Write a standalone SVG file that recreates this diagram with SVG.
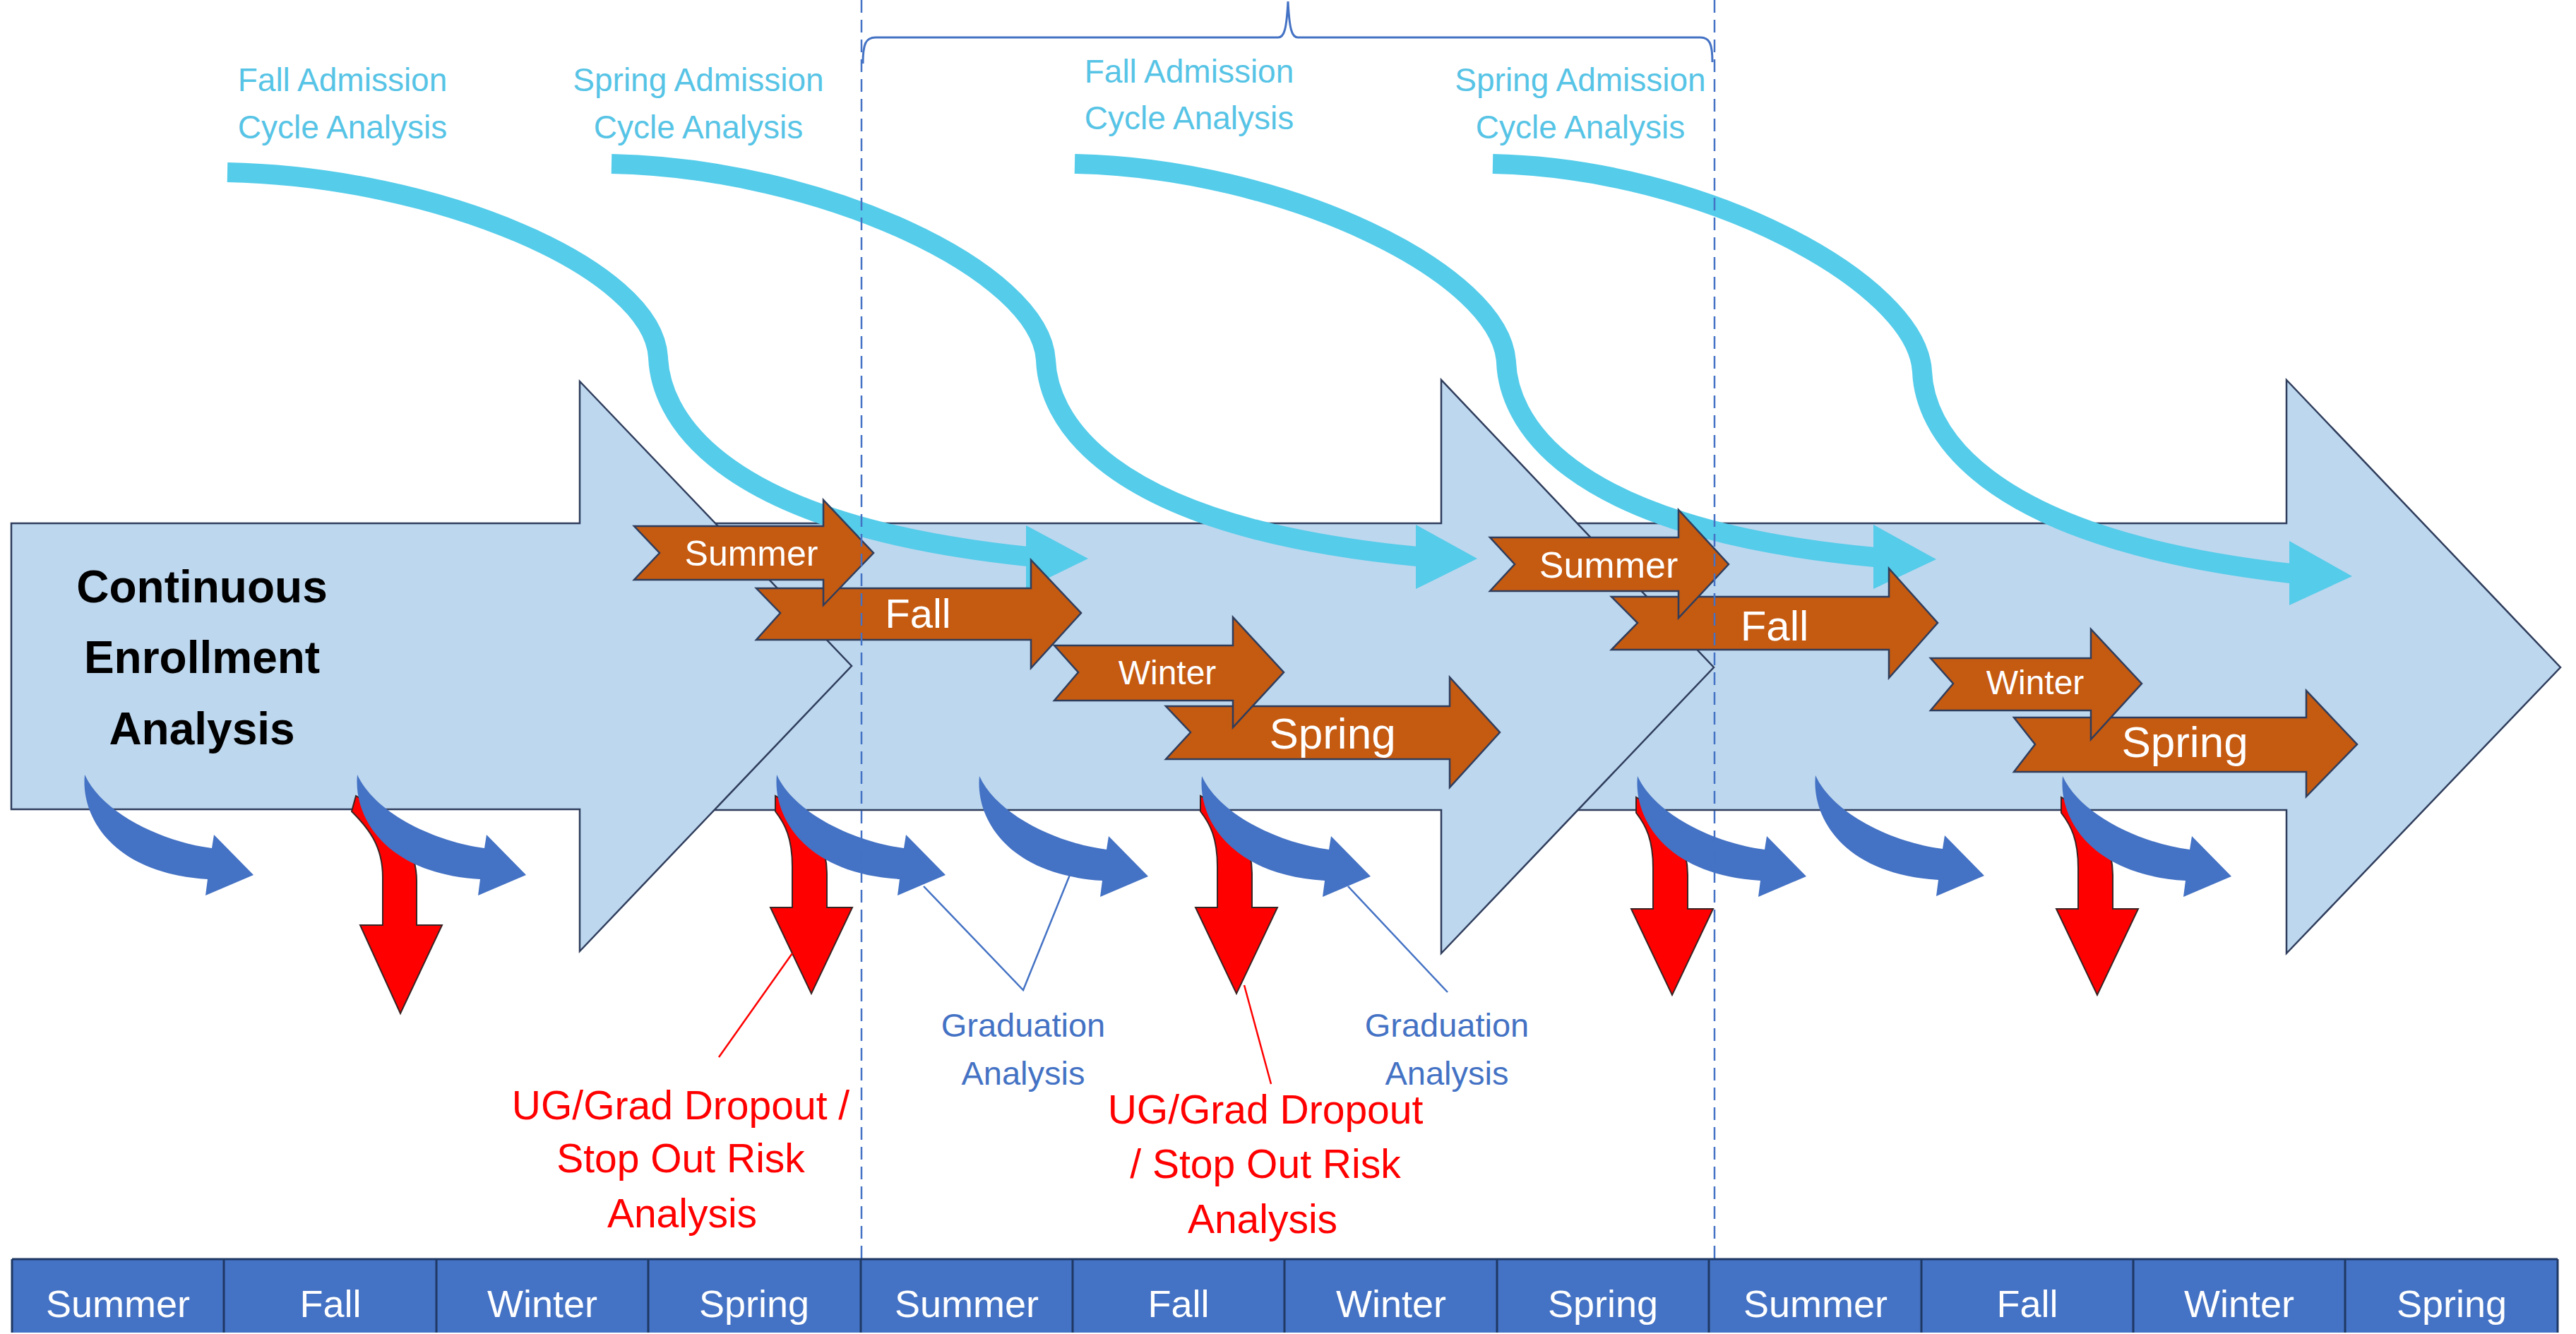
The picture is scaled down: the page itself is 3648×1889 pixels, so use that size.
<svg xmlns="http://www.w3.org/2000/svg" xmlns:xlink="http://www.w3.org/1999/xlink" width="3648" height="1889" viewBox="0 0 3648 1889">
<style>
.big{fill:#BDD7EE;stroke:#2F3D5C;stroke-width:2.5}
.cy{fill:none;stroke:#55CCEA;stroke-width:28}
.cyh{fill:#55CCEA}
.or{fill:#C55A11;stroke:#2F3D5C;stroke-width:2.5}
.t{font-family:"Liberation Sans",Arial,sans-serif;text-anchor:middle}
.ot{fill:#FFFFFF}
.blue{fill:#4472C4}
.red{fill:#FF0000;stroke:#3A2323;stroke-width:2}
.gl{stroke:#4472C4;stroke-width:2.5;fill:none}
.rl{stroke:#FF0000;stroke-width:2.5;fill:none}
.dash{stroke:#4472C4;stroke-width:2.5;stroke-dasharray:18 10;fill:none}
.adm{fill:#57C4E6;font-size:46px}
.grad{fill:#4472C4;font-size:47px}
.risk{fill:#FF0000;font-size:57px}
.cell{fill:#4472C4}
.div{stroke:#1F3864;stroke-width:3}
.ct{fill:#FFFFFF;font-size:54px}
</style>
<defs>
<path id="bca" d="M 0 0 C -6 60, 40 140, 174 148 L 171 171 L 239 142 L 183 85 L 180 104 C 110 95, 25 55, 0 0 Z"/>
<path id="rda" d="M -2 30 L -2 52 C 12 70, 22 90, 22 130 L 22 188 L -9 188 L 49 310 L 107 188 L 71 188 L 71 140 C 71 100, 50 65, 25 45 Z"/>
</defs>
<rect width="3648" height="1889" fill="#FFFFFF"/>

<g id="enrollment-arrow-3"><path class="big" d="M 2060 741 L 3238 741 L 3238 538 L 3626 945 L 3238 1350 L 3238 1147 L 2060 1147 Z"/></g>
<g id="enrollment-arrow-2"><path class="big" d="M 840 741 L 2041 741 L 2041 538 L 2427 945 L 2041 1350 L 2041 1147 L 840 1147 Z"/></g>
<g id="enrollment-arrow-1">
<path class="big" d="M 16 741 L 821 741 L 821 540 L 1206 943 L 821 1347 L 821 1146 L 16 1146 Z"/>
<text class="t" x="286" y="853" font-size="64" font-weight="bold" fill="#000000">Continuous</text>
<text class="t" x="286" y="953" font-size="64" font-weight="bold" fill="#000000">Enrollment</text>
<text class="t" x="286" y="1054" font-size="64" font-weight="bold" fill="#000000">Analysis</text>
</g>

<g id="admission-cycles">
<path class="cy" d="M 322 244 C 620 250, 925 380, 932 506 C 935 580, 1000 740, 1455 788"/>
<polygon class="cyh" points="1453,744 1541,791 1453,834"/>
<path class="cy" d="M 866 232 C 1164 238, 1474 384, 1481 510 C 1484 584, 1549 744, 2007 788"/>
<polygon class="cyh" points="2005,743 2092,791 2005,834"/>
<path class="cy" d="M 1522 232 C 1820 238, 2126 387, 2133 513 C 2136 587, 2201 747, 2655 789"/>
<polygon class="cyh" points="2653,743 2742,792 2653,834"/>
<path class="cy" d="M 2114 232 C 2412 238, 2715 400, 2722 526 C 2725 600, 2790 760, 3244 812"/>
<polygon class="cyh" points="3242,766 3331,816 3242,857"/>
</g>

<g id="admission-labels">
<text class="t adm" x="485" y="129">Fall Admission</text>
<text class="t adm" x="485" y="196">Cycle Analysis</text>
<text class="t adm" x="989" y="129">Spring Admission</text>
<text class="t adm" x="989" y="196">Cycle Analysis</text>
<text class="t adm" x="1684" y="117">Fall Admission</text>
<text class="t adm" x="1684" y="183">Cycle Analysis</text>
<text class="t adm" x="2238" y="129">Spring Admission</text>
<text class="t adm" x="2238" y="196">Cycle Analysis</text>
</g>

<g id="terms-year-1">
<g id="spring-1"><path class="or" d="M 1651 1000 L 2053 1000 L 2053 959 L 2124 1037 L 2053 1115 L 2053 1075 L 1651 1075 L 1686 1037 Z"/><text class="t ot" x="1887" y="1060" font-size="62">Spring</text></g>
<g id="winter-1"><path class="or" d="M 1493 914 L 1746 914 L 1746 874 L 1818 952 L 1746 1030 L 1746 992 L 1493 992 L 1527 952 Z"/><text class="t ot" x="1653" y="969" font-size="48">Winter</text></g>
<g id="fall-1"><path class="or" d="M 1071 833 L 1460 833 L 1460 793 L 1531 868 L 1460 946 L 1460 906 L 1071 906 L 1105 868 Z"/><text class="t ot" x="1300" y="889" font-size="58">Fall</text></g>
<g id="summer-1"><path class="or" d="M 898 745 L 1166 745 L 1166 708 L 1237 783 L 1166 857 L 1166 821 L 898 821 L 934 783 Z"/><text class="t ot" x="1064" y="801" font-size="50">Summer</text></g>
</g>
<g id="terms-year-2">
<g id="spring-2"><path class="or" d="M 2852 1016 L 3266 1016 L 3266 978 L 3338 1054 L 3266 1128 L 3266 1093 L 2852 1093 L 2882 1054 Z"/><text class="t ot" x="3094" y="1072" font-size="62">Spring</text></g>
<g id="winter-2"><path class="or" d="M 2734 932 L 2961 932 L 2961 891 L 3033 968 L 2961 1047 L 2961 1006 L 2734 1006 L 2766 968 Z"/><text class="t ot" x="2882" y="983" font-size="48">Winter</text></g>
<g id="fall-2"><path class="or" d="M 2282 845 L 2675 845 L 2675 805 L 2744 882 L 2675 960 L 2675 920 L 2282 920 L 2319 882 Z"/><text class="t ot" x="2513" y="907" font-size="60">Fall</text></g>
<g id="summer-2"><path class="or" d="M 2110 761 L 2377 761 L 2377 722 L 2448 799 L 2377 875 L 2377 837 L 2110 837 L 2145 799 Z"/><text class="t ot" x="2278" y="818" font-size="52">Summer</text></g>
</g>

<g id="dropout-arrows">
<path class="red" d="M 504 1127 L 498 1149 C 521 1172, 542 1197, 542 1242 L 542 1310 L 510 1310 L 567 1435 L 626 1310 L 590 1310 L 590 1247 C 590 1207, 566 1167, 531 1142 Z"/>
<use xlink:href="#rda" href="#rda" class="red" x="1100" y="1097"/>
<use xlink:href="#rda" href="#rda" class="red" x="1702" y="1097"/>
<use xlink:href="#rda" href="#rda" class="red" x="2319" y="1099"/>
<use xlink:href="#rda" href="#rda" class="red" x="2921" y="1099"/>
</g>

<g id="progression-arrows">
<use xlink:href="#bca" href="#bca" class="blue" x="120" y="1097"/>
<use xlink:href="#bca" href="#bca" class="blue" x="506" y="1097"/>
<use xlink:href="#bca" href="#bca" class="blue" x="1100" y="1097"/>
<use xlink:href="#bca" href="#bca" class="blue" x="1387" y="1099"/>
<use xlink:href="#bca" href="#bca" class="blue" x="1702" y="1099"/>
<use xlink:href="#bca" href="#bca" class="blue" x="2319" y="1099"/>
<use xlink:href="#bca" href="#bca" class="blue" x="2571" y="1098"/>
<use xlink:href="#bca" href="#bca" class="blue" x="2921" y="1099"/>
</g>

<g id="connectors">
<path class="gl" d="M 1308 1255 L 1449 1402 L 1515 1239"/>
<path class="gl" d="M 1909 1255 L 2050 1405"/>
<path class="rl" d="M 1122 1350 L 1018 1497"/>
<path class="rl" d="M 1762 1395 L 1800 1535"/>
</g>

<g id="graduation-labels">
<text class="t grad" x="1449" y="1468">Graduation</text>
<text class="t grad" x="1449" y="1536">Analysis</text>
<text class="t grad" x="2049" y="1468">Graduation</text>
<text class="t grad" x="2049" y="1536">Analysis</text>
</g>

<g id="dropout-labels">
<text class="t risk" x="964" y="1585">UG/Grad Dropout /</text>
<text class="t risk" x="964" y="1660">Stop Out Risk</text>
<text class="t risk" x="966" y="1738">Analysis</text>
<text class="t risk" x="1792" y="1591">UG/Grad Dropout</text>
<text class="t risk" x="1792" y="1668">/ Stop Out Risk</text>
<text class="t risk" x="1788" y="1746">Analysis</text>
</g>

<g id="year-bracket">
<path class="dash" d="M 1220 0 L 1220 1783"/>
<path class="dash" d="M 2428 0 L 2428 1783"/>
<path d="M 1222 90 C 1222 62, 1226 53, 1240 53 L 1810 53 C 1819 53, 1822 40, 1824 2 C 1826 40, 1829 53, 1838 53 L 2408 53 C 2421 53, 2425 62, 2425 88" fill="none" stroke="#4472C4" stroke-width="3"/>
</g>

<g id="term-timeline">
<rect class="cell" x="17" y="1783" width="3605" height="104"/>
<line class="div" x1="17" y1="1783" x2="3622" y2="1783"/>
<g class="div">
<line x1="17" y1="1783" x2="17" y2="1887"/>
<line x1="317" y1="1783" x2="317" y2="1887"/>
<line x1="618" y1="1783" x2="618" y2="1887"/>
<line x1="918" y1="1783" x2="918" y2="1887"/>
<line x1="1219" y1="1783" x2="1219" y2="1887"/>
<line x1="1519" y1="1783" x2="1519" y2="1887"/>
<line x1="1819" y1="1783" x2="1819" y2="1887"/>
<line x1="2120" y1="1783" x2="2120" y2="1887"/>
<line x1="2420" y1="1783" x2="2420" y2="1887"/>
<line x1="2721" y1="1783" x2="2721" y2="1887"/>
<line x1="3021" y1="1783" x2="3021" y2="1887"/>
<line x1="3321" y1="1783" x2="3321" y2="1887"/>
<line x1="3622" y1="1783" x2="3622" y2="1887"/>
</g>
<text class="t ct" x="167" y="1865">Summer</text>
<text class="t ct" x="468" y="1865">Fall</text>
<text class="t ct" x="768" y="1865">Winter</text>
<text class="t ct" x="1068" y="1865">Spring</text>
<text class="t ct" x="1369" y="1865">Summer</text>
<text class="t ct" x="1669" y="1865">Fall</text>
<text class="t ct" x="1970" y="1865">Winter</text>
<text class="t ct" x="2270" y="1865">Spring</text>
<text class="t ct" x="2571" y="1865">Summer</text>
<text class="t ct" x="2871" y="1865">Fall</text>
<text class="t ct" x="3171" y="1865">Winter</text>
<text class="t ct" x="3472" y="1865">Spring</text>
</g>
</svg>
